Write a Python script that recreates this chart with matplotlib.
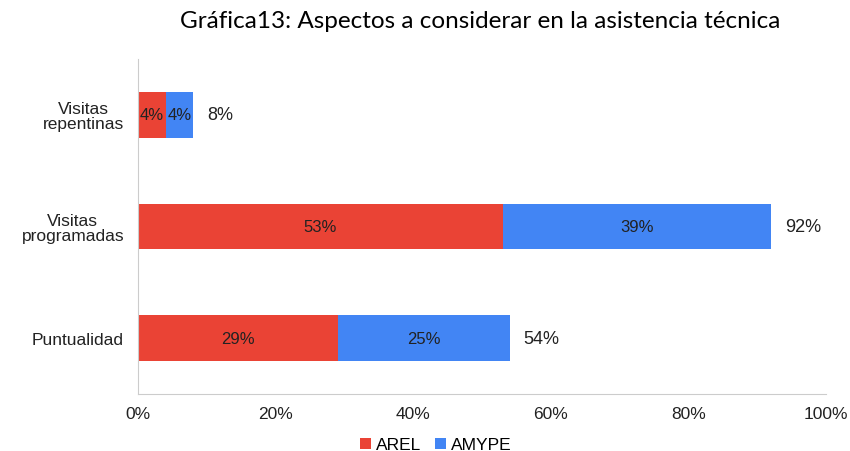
import numpy as np
import matplotlib as mpl
mpl.use('Agg')
import matplotlib.pyplot as plt

categorias = ['Puntualidad', 'Visitas\nprogramadas', 'Visitas\nrepentinas']
arel = [0.29, 0.53, 0.04]
amype = [0.25, 0.39, 0.04]
totales = [0.54, 0.92, 0.08]
etiquetas_arel = ['29%', '53%', '4%']
etiquetas_amype = ['25%', '39%', '4%']
etiquetas_total = ['54%', '92%', '8%']
ticks_x = [0, 0.2, 0.4, 0.6, 0.8, 1.0]
ticks_x_lbl = ['0%', '20%', '40%', '60%', '80%', '100%']

plt.rcParams['font.family'] = ['Liberation Sans', 'DejaVu Sans']

rojo = '#EA4335'
azul = '#4285F4'
gris = '#CCCCCC'

fig = plt.figure(figsize=(8.5, 4.52), dpi=100)
ax = fig.add_axes([138/850, 1-395/452, (826-138)/850, (395-60)/452])

y = np.arange(len(categorias))
h = 0.41
b1 = ax.barh(y, arel, height=h, color=rojo, label='AREL')
b2 = ax.barh(y, amype, height=h, left=arel, color=azul, label='AMYPE')

for i in range(len(categorias)):
	ax.text(arel[i]/2, y[i], etiquetas_arel[i], ha='center', va='center', fontsize=12, color='#222222')
	ax.text(arel[i]+amype[i]/2, y[i], etiquetas_amype[i], ha='center', va='center', fontsize=12, color='#222222')
	ax.text(totales[i]+0.02, y[i], etiquetas_total[i], ha='left', va='center', fontsize=13, color='#222222')

ax.set_xlim(0, 1)
ax.set_ylim(-0.5, 2.5)
ax.set_yticks(y)
ax.set_yticklabels(categorias, fontsize=12.5, color='#222222', linespacing=1.0, multialignment='center')
ax.set_xticks(ticks_x)
ax.set_xticklabels(ticks_x_lbl, fontsize=12.5, color='#222222')
ax.tick_params(length=0)
ax.tick_params(axis='x', pad=9)
ax.tick_params(axis='y', pad=10)
for s in ['top', 'right']:
	ax.spines[s].set_visible(False)
ax.spines['left'].set_color(gris)
ax.spines['bottom'].set_color(gris)

fig.text(480/850, 1-22/452, 'Gráfica13: Aspectos a considerar en la asistencia técnica',
	ha='center', va='center', fontsize=17.5, family=['Lato', 'DejaVu Sans'])

fig.legend(handles=[b1, b2], loc='center', bbox_to_anchor=(436/850, 1-446/452), ncol=2,
	frameon=False, fontsize=12.5, handlelength=0.6, handleheight=0.6, handletextpad=0.3, columnspacing=0.8)

fig.savefig('out.png', dpi=100)
